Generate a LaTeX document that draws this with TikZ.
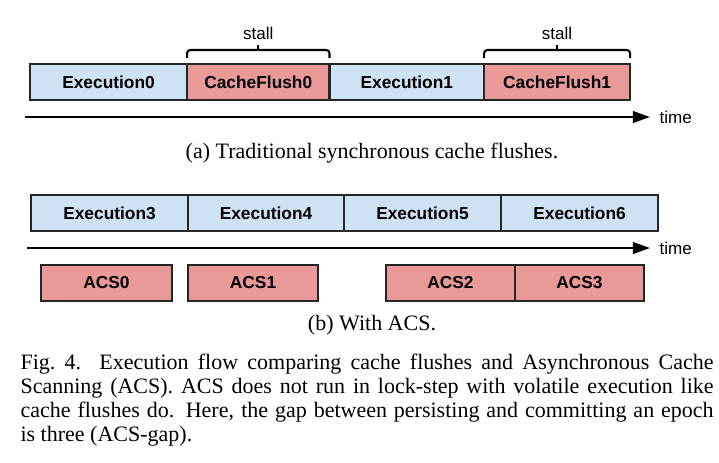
\documentclass[tikz,border=0pt]{standalone}
\usepackage{fontspec}
\setmainfont{Liberation Serif}
\setsansfont{Liberation Sans}
\usepackage{tikz}
\usetikzlibrary{arrows.meta}
\definecolor{execblue}{HTML}{CFE2F3}
\definecolor{flushred}{HTML}{EA9999}
\tikzset{box/.style={draw=black!85,line width=0.75pt,minimum height=13.1pt,
    inner sep=0pt,outer sep=0pt,font=\sffamily\bfseries\fontsize{6.3}{7}\selectfont}}
\tikzset{exec/.style={box,fill=execblue}}
\tikzset{flush/.style={box,fill=flushred}}
\tikzset{timeline/.style={line width=0.75pt,-{Triangle[length=6.2pt,width=4.2pt]}}}
\tikzset{brace/.style={line width=0.75pt,rounded corners=1.2pt}}
\tikzset{lbl/.style={inner sep=0pt,font=\sffamily\fontsize{6.2}{7}\selectfont}}
\tikzset{subcap/.style={inner sep=0pt,font=\fontsize{8}{9.6}\selectfont}}

\begin{document}
\begin{tikzpicture}[x=0.3636pt,y=-0.3636pt]
        \useasboundingbox (0,0) rectangle (719,462);
        % (a) execution and synchronous flushes
        \node[exec,anchor=west,minimum width=57.1pt] (ex0) at (30,82) {Execution0};
        \node[flush,anchor=west,minimum width=51.8pt] (cf0) at (ex0.east) {CacheFlush0};
        \node[exec,anchor=west,minimum width=56.2pt] (ex1) at (cf0.east) {Execution1};
        \node[flush,anchor=west,minimum width=53.1pt] (cf1) at (ex1.east) {CacheFlush1};
        % Stall braces
        \coordinate (s0) at ([yshift=5.1pt]cf0.north);
        \draw[brace] ([yshift=2.2pt]cf0.north west) |- (s0);
        \draw[brace] ([yshift=2.2pt]cf0.north east) |- (s0);
        \draw[brace] (s0) -- ([yshift=6.9pt]cf0.north);
        \node[lbl] (st0) at ([yshift=11.3pt]cf0.north) {stall};
        \coordinate (s1) at ([yshift=5.1pt]cf1.north);
        \draw[brace] ([yshift=2.2pt]cf1.north west) |- (s1);
        \draw[brace] ([yshift=2.2pt]cf1.north east) |- (s1);
        \draw[brace] (s1) -- ([yshift=6.9pt]cf1.north);
        \node[lbl] (st1) at ([yshift=11.3pt]cf1.north) {stall};
        % Time axis
        \coordinate (ta0) at (25,117);
        \coordinate (ta1) at (650,117);
        \draw[timeline] (ta0) -- (ta1);
        \node[lbl,anchor=west] (tm0) at (659,117) {time};
        \node[subcap] (capa) at (372,153) {(a) Traditional synchronous cache flushes.};
        % (b) execution with ACS
        \node[exec,anchor=west,minimum width=57.1pt] (ex3) at (31,213) {Execution3};
        \node[exec,anchor=west,minimum width=56.7pt] (ex4) at (ex3.east) {Execution4};
        \node[exec,anchor=west,minimum width=57.1pt] (ex5) at (ex4.east) {Execution5};
        \node[exec,anchor=west,minimum width=57.1pt] (ex6) at (ex5.east) {Execution6};
        % Time axis
        \coordinate (tb0) at (27,248);
        \coordinate (tb1) at (650,248);
        \draw[timeline] (tb0) -- (tb1);
        \node[lbl,anchor=west] (tm1) at (659,248) {time};
        % ACS scans
        \node[flush,anchor=west,minimum width=47.6pt] (acs0) at (41,283) {ACS0};
        \node[flush,anchor=west,minimum width=47.3pt] (acs1) at (188,283) {ACS1};
        \node[flush,anchor=west,minimum width=46.9pt] (acs2) at (386,283) {ACS2};
        \node[flush,anchor=west,minimum width=46.9pt] (acs3) at (acs2.east) {ACS3};
        \node[subcap] (capb) at (372,325) {(b) With ACS.};
        % Figure caption
        \node[inner sep=0pt,anchor=north west,text width=252pt,align=justify,
        font=\fontsize{8}{8.75}\selectfont] (figcap) at (20,353)
        {\hyphenpenalty=10000 Fig.~4.~~Execution flow comparing cache flushes and Asynchronous Cache\linebreak
        Scanning (ACS). ACS does not run in lock-step with volatile execution like\linebreak
        cache flushes do. Here, the gap between persisting and committing an epoch\linebreak
        is three (ACS-gap).};
    \end{tikzpicture}
\end{document}
